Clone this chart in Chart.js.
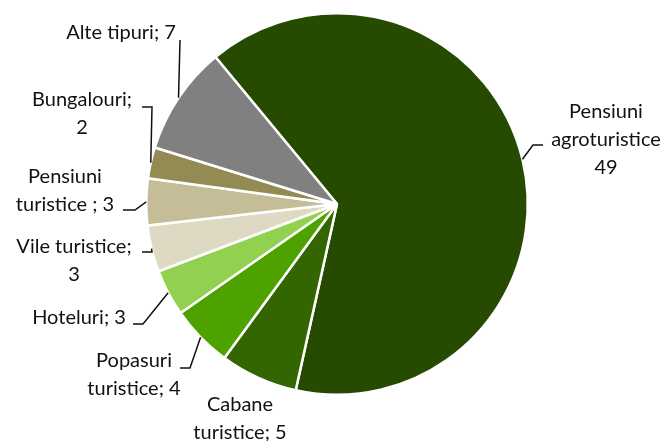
<!DOCTYPE html>
<html>
<head>
<meta charset="utf-8">
<script src="https://cdn.jsdelivr.net/npm/chart.js@4"></script>
<style>
  html, body { margin: 0; padding: 0; background: #fff; }
  #wrap { width: 665px; height: 441px; }
</style>
</head>
<body>
<div id="wrap"><canvas id="pie" width="665" height="441"></canvas></div>
<script>
// categories and counts, clockwise from the top-left boundary
const categories = ['Pensiuni agroturistice', 'Cabane turistice', 'Popasuri turistice', 'Hoteluri',
    'Vile turistice', 'Pensiuni turistice', 'Bungalouri', 'Alte tipuri'];
const counts = [49, 5, 4, 3, 3, 3, 2, 7];
const sliceColors = ['#264b00', '#336600', '#4ea200', '#92d050', '#ddd9c3', '#c4bd97', '#948a54', '#808080'];

// label text, split into drawn lines
const labelLines = [
    ['Pensiuni', 'agroturistice', '49'],
    ['Cabane', 'turistice; 5'],
    ['Popasuri', 'turistice; 4'],
    ['Hoteluri; 3'],
    ['Vile turistice;', '3'],
    ['Pensiuni', 'turistice ; 3'],
    ['Bungalouri;', '2'],
    ['Alte tipuri; 7'],
];

// where each label sits: text centre, leader start and elbow (null = no leader)
const labelLayout = [
    { x: 606, y: 112, lead: [543, 145, 533] },
    { x: 240, y: 405, lead: null },
    { x: 134, y: 361, lead: [180, 368, 190] },
    { x: 79,  y: 318, lead: [133, 324, 143] },
    { x: 74,  y: 247, lead: [142, 252, 152] },
    { x: 65,  y: 177, lead: [123, 210, 135] },
    { x: 82,  y: 100, lead: [142, 107, 152] },
    { x: 121, y: 33,  lead: [180, 40, 180] },
];

const lineHeight = 28;

const outsideLabels = {
    id: 'outsideLabels',
    afterDatasetsDraw(chart) {
        const ctx = chart.ctx;
        const arcs = chart.getDatasetMeta(0).data;
        ctx.save();
        ctx.font = '20px Lato, "Open Sans", sans-serif';
        ctx.fillStyle = '#111';
        ctx.textAlign = 'center';
        ctx.textBaseline = 'middle';
        ctx.strokeStyle = '#111';
        ctx.lineWidth = 1.5;
        arcs.forEach((arc, i) => {
            const { x, y, startAngle, endAngle, outerRadius } = arc.getProps(['x', 'y', 'startAngle', 'endAngle', 'outerRadius'], true);
            const mid = (startAngle + endAngle) / 2;
            const ax = x + Math.cos(mid) * outerRadius;
            const ay = y + Math.sin(mid) * outerRadius;
            const pos = labelLayout[i];
            if (pos.lead) {
                const [sx, sy, ex] = pos.lead;
                ctx.beginPath();
                ctx.moveTo(sx, sy);
                ctx.lineTo(ex, sy);
                ctx.lineTo(ax, ay);
                ctx.stroke();
            }
            labelLines[i].forEach((line, k) => {
                ctx.fillText(line, pos.x, pos.y + k * lineHeight);
            });
        });
        ctx.restore();
    }
};

new Chart(document.getElementById('pie'), {
    type: 'pie',
    data: {
        labels: categories,
        datasets: [{
            data: counts,
            backgroundColor: sliceColors,
            borderColor: '#ffffff',
            borderWidth: 2.5,
        }]
    },
    options: {
        responsive: false,
        animation: false,
        rotation: -39.6,
        layout: { padding: { top: 12, bottom: 45, left: 145, right: 136 } },
        plugins: {
            legend: { display: false },
            tooltip: { enabled: false },
        }
    },
    plugins: [outsideLabels]
});
</script>
</body>
</html>
